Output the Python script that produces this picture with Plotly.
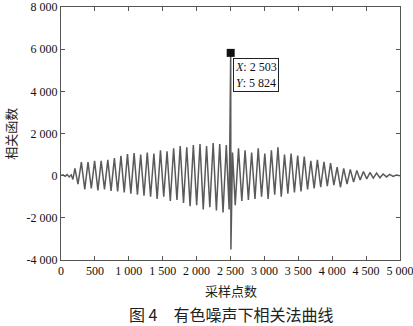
import plotly.graph_objects as go

# Extrema of the correlation curve (sample index, value)
samples = [0, 30, 60, 90, 120, 150, 175, 205, 250, 300, 350, 398, 447, 495, 544, 592, 641, 690, 738, 787,
           835, 884, 932, 980, 1030, 1078, 1127, 1175, 1224, 1272, 1321, 1370, 1418, 1467, 1515, 1564,
           1612, 1661, 1710, 1758, 1807, 1855, 1904, 1952, 2001, 2050, 2098, 2147, 2195, 2244, 2292,
           2341, 2390, 2438, 2480, 2503, 2506, 2530, 2570, 2618, 2667, 2715, 2764, 2812, 2861, 2909,
           2958, 3006, 3055, 3103, 3152, 3200, 3249, 3297, 3346, 3394, 3443, 3491, 3540, 3588, 3637,
           3685, 3734, 3782, 3831, 3879, 3928, 3976, 4025, 4073, 4122, 4170, 4219, 4267, 4316, 4364,
           4413, 4461, 4510, 4558, 4607, 4655, 4704, 4752, 4801, 4849, 4898, 4946, 5000]
values = [0, 40, -30, 50, -60, 40, -180, 350, -400, 640, -650, 640, -600, 700, -700, 700, -650, 750, -720, 830,
          -750, 940, -800, 1020, -850, 1070, -900, 1000, -950, 1100, -1000, 1050, -1100, 1200, -1000, 1150,
          -1200, 1300, -1150, 1400, -1300, 1350, -1450, 1450, -1400, 1500, -1600, 1400, -1500, 1550, -1650,
          1500, -1750, 1450, -1600, 5824, -3500, 1100, -1400, 1300, -1200, 1200, -1150, 1100, -1100, 1300,
          -1000, 1050, -1100, 1200, -900, 1350, -1000, 1000, -850, 1050, -800, 950, -750, 900, -650,
          700, -600, 750, -550, 650, -500, 600, -450, 400, -550, 350, -400, 300, -300, 250,
          -200, 200, -150, 150, -120, 120, -100, 80, -60, 60, -40, 30, 0]

peak_x = [2503]
peak_y = [5824]

x_ticks = [0, 500, 1000, 1500, 2000, 2500, 3000, 3500, 4000, 4500, 5000]
x_tick_text = ["0", "500", "1 000", "1 500", "2 000", "2 500", "3 000", "3 500", "4 000", "4 500", "5 000"]
y_ticks = [-4000, -2000, 0, 2000, 4000, 6000, 8000]
y_tick_text = ["-4 000", "-2 000", "0", "2 000", "4 000", "6 000", "8 000"]

serif = "Liberation Serif, Times New Roman, serif"
cjk = "Noto Sans CJK SC"

fig = go.Figure()
fig.add_trace(go.Scatter(x=samples, y=values, mode="lines",
                         line=dict(color="#5a5a5a", width=1.5), showlegend=False))
fig.add_trace(go.Scatter(x=peak_x, y=peak_y, mode="markers",
                         marker=dict(symbol="square", size=8, color="#111111"), showlegend=False))

fig.add_annotation(x=peak_x[0], y=peak_y[0], xref="x", yref="y",
                   text="<i>X</i>: 2 503<br><i>Y</i>: 5 824",
                   showarrow=False, xanchor="left", yanchor="top", align="left",
                   xshift=2, yshift=-5,
                   font=dict(family=serif, size=12, color="#111111"),
                   bgcolor="white", bordercolor="#222222", borderwidth=1, borderpad=1)

fig.add_annotation(x=0.5, y=-0.119, xref="paper", yref="paper", text="采样点数",
                   showarrow=False, xanchor="center", yanchor="middle",
                   font=dict(family=cjk, size=13, color="#222222"))
fig.add_annotation(x=-0.15, y=0.5, xref="paper", yref="paper", text="相关函数", textangle=-90,
                   showarrow=False, xanchor="center", yanchor="middle",
                   font=dict(family=cjk, size=13, color="#222222"))
fig.add_annotation(x=0.5, y=-0.213, xref="paper", yref="paper", text="图 4　有色噪声下相关法曲线",
                   showarrow=False, xanchor="center", yanchor="middle",
                   font=dict(family=cjk, size=16, color="#222222"))

axis_common = dict(showgrid=False, zeroline=False, showline=True, linecolor="#555555", linewidth=1,
                   mirror="ticks", ticks="inside", ticklen=4, tickcolor="#555555",
                   ticklabeloverflow="allow", automargin=False,
                   tickfont=dict(family=serif, size=12, color="#111111"))

fig.update_xaxes(range=[-0.5, 5000.5], tickvals=x_ticks, ticktext=x_tick_text, **axis_common)
fig.update_yaxes(range=[-4001, 8001], tickvals=y_ticks, ticktext=y_tick_text, **axis_common)

fig.update_layout(width=413, height=326, margin=dict(l=61, r=13, t=7, b=66),
                  plot_bgcolor="white", paper_bgcolor="white")

fig.write_html("out.html")
